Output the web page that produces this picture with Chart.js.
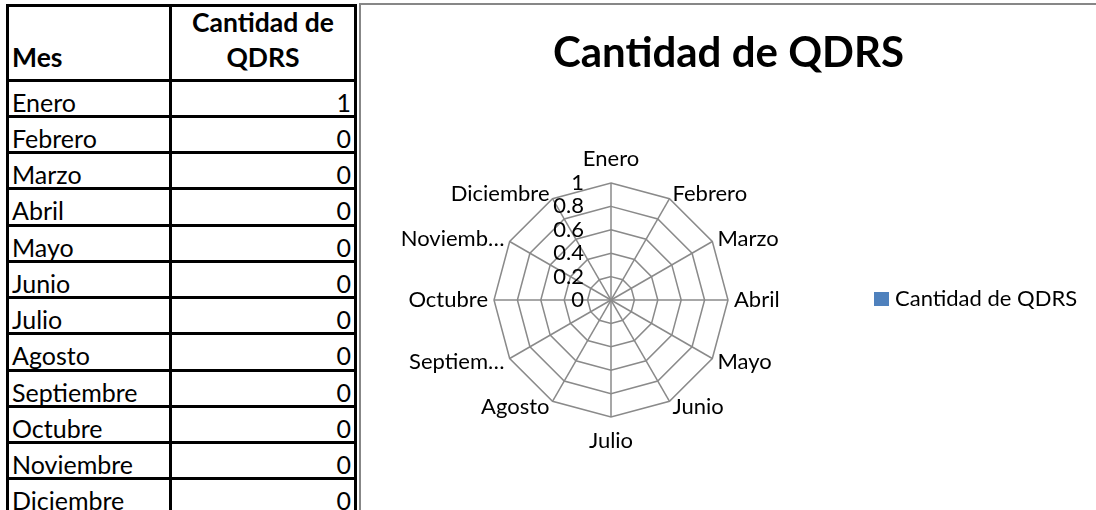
<!DOCTYPE html>
<html>
<head>
<meta charset="utf-8">
<script src="https://cdn.jsdelivr.net/npm/chart.js"></script>
<style>
html, body { margin: 0; padding: 0; background: #fff; overflow: hidden; width: 1096px; height: 510px; font-family: Lato, sans-serif; }
#tabla { position: absolute; left: 0; top: 0; width: 360px; height: 510px; }
.ln { position: absolute; background: #000; }
.txt { position: absolute; font-size: 25px; line-height: 36px; white-space: nowrap; color: #000; }
.neg { font-weight: bold; font-size: 26.5px; line-height: 35px; }
#marco { position: absolute; left: 359px; top: 3px; width: 800px; height: 600px; border-left: 2px solid #878787; border-top: 2px solid #878787; }
#wrap { position: absolute; left: 361px; top: 5px; width: 735px; height: 505px; }
</style>
</head>
<body>
<div id="tabla"></div>
<div id="marco"></div>
<div id="wrap"><canvas id="grafico"></canvas></div>
<script>
// datos de la hoja
const meses = ['Enero', 'Febrero', 'Marzo', 'Abril', 'Mayo', 'Junio', 'Julio', 'Agosto', 'Septiembre', 'Octubre', 'Noviembre', 'Diciembre'];
const cantidadQDRS = [1, 0, 0, 0, 0, 0, 0, 0, 0, 0, 0, 0];
// etiquetas tal como salen recortadas en el grafico
const etiquetasGrafico = ['Enero', 'Febrero', 'Marzo', 'Abril', 'Mayo', 'Junio', 'Julio', 'Agosto', 'Septiem…', 'Octubre', 'Noviemb…', 'Diciembre'];
const marcasEje = ['0', '0.2', '0.4', '0.6', '0.8', '1'];
const tituloSerie = 'Cantidad de QDRS';

// ---- tabla de la izquierda ----
const tabla = document.getElementById('tabla');
function linea(x, y, w, h) {
    const d = document.createElement('div');
    d.className = 'ln';
    d.style.left = x + 'px'; d.style.top = y + 'px';
    d.style.width = w + 'px'; d.style.height = h + 'px';
    tabla.appendChild(d);
}
function texto(t, x, y, w, align, extra) {
    const d = document.createElement('div');
    d.className = 'txt' + (extra ? ' ' + extra : '');
    d.style.left = x + 'px'; d.style.top = y + 'px';
    if (w) { d.style.width = w + 'px'; d.style.textAlign = align; }
    d.innerHTML = t;
    tabla.appendChild(d);
}
const filaY0 = 80, altoFila = 36.25;
linea(6, 4, 351, 3);
for (let k = 0; k < meses.length; k++) linea(6, filaY0 + k * altoFila - 1.5, 351, 3);
linea(6, 4, 3, 520); linea(169, 4, 3, 520); linea(354, 4, 3, 520);

texto('Mes', 12, 40, 0, null, 'neg');
texto('Cantidad de<br>QDRS', 172, 5, 182, 'center', 'neg');
meses.forEach((m, k) => {
    const y = filaY0 + k * altoFila + 3.5;
    texto(m, 12, y);
    texto(String(cantidadQDRS[k]), 172, y, 179, 'right');
});

// ---- grafico radial ----
// titulo, leyenda y etiquetas al estilo de Excel
const etiquetasRadar = {
    id: 'etiquetasRadar',
    afterDraw(chart) {
        const r = chart.scales.r;
        const c = chart.ctx;
        c.save();
        c.fillStyle = '#000';
        c.textBaseline = 'middle';

        c.font = 'bold 42px Lato';
        c.textAlign = 'center';
        c.fillText(tituloSerie, chart.width / 2, 48.5);

        c.font = '22px Lato';
        chart.data.labels.forEach((txt, i) => {
            const s = Math.sin(r.getIndexAngle(i));
            let dist = r.drawingArea + 6;
            if (Math.abs(s) < 0.01) dist += 18;
            const p = r.getPointPosition(i, dist);
            c.textAlign = Math.abs(s) < 0.01 ? 'center' : (s > 0 ? 'left' : 'right');
            c.fillText(txt, p.x, p.y);
        });
        // marcas del eje a la izquierda del radio de Enero
        c.textAlign = 'right';
        r.ticks.forEach(t => {
            const y = r.yCenter - r.getDistanceFromCenterForValue(t.value);
            c.fillText(t.label, r.xCenter - 27, y);
        });

        // leyenda
        const ds = chart.data.datasets[0];
        const lx = r.xCenter + 263, ly = r.yCenter - 1;
        c.fillStyle = ds.backgroundColor;
        c.fillRect(lx, ly - 7, 15, 14);
        c.fillStyle = '#000';
        c.textAlign = 'left';
        c.fillText(ds.label, lx + 21, ly);
        c.restore();
    }
};

Chart.defaults.font.family = 'Lato';
const ctx = document.getElementById('grafico');
const grafico = new Chart(ctx, {
    type: 'radar',
    data: {
        labels: etiquetasGrafico,
        datasets: [{
            label: tituloSerie,
            data: cantidadQDRS,
            backgroundColor: '#4F81BD',
            borderColor: 'transparent',
            borderWidth: 0,
            pointRadius: 0,
            fill: true
        }]
    },
    options: {
        responsive: true,
        maintainAspectRatio: false,
        animation: false,
        layout: { padding: { left: 133, right: 368, top: 178, bottom: 93 } },
        scales: {
            r: {
                min: 0,
                max: 1,
                ticks: { stepSize: 0.2, display: false, callback: (v, i) => marcasEje[i] },
                pointLabels: { display: false },
                grid: { color: '#8a8a8a', lineWidth: 1.5 },
                angleLines: { color: '#8a8a8a', lineWidth: 1.5 }
            }
        },
        plugins: {
            title: { display: false },
            legend: { display: false },
            tooltip: { enabled: false }
        }
    },
    plugins: [etiquetasRadar]
});
</script>
</body>
</html>
